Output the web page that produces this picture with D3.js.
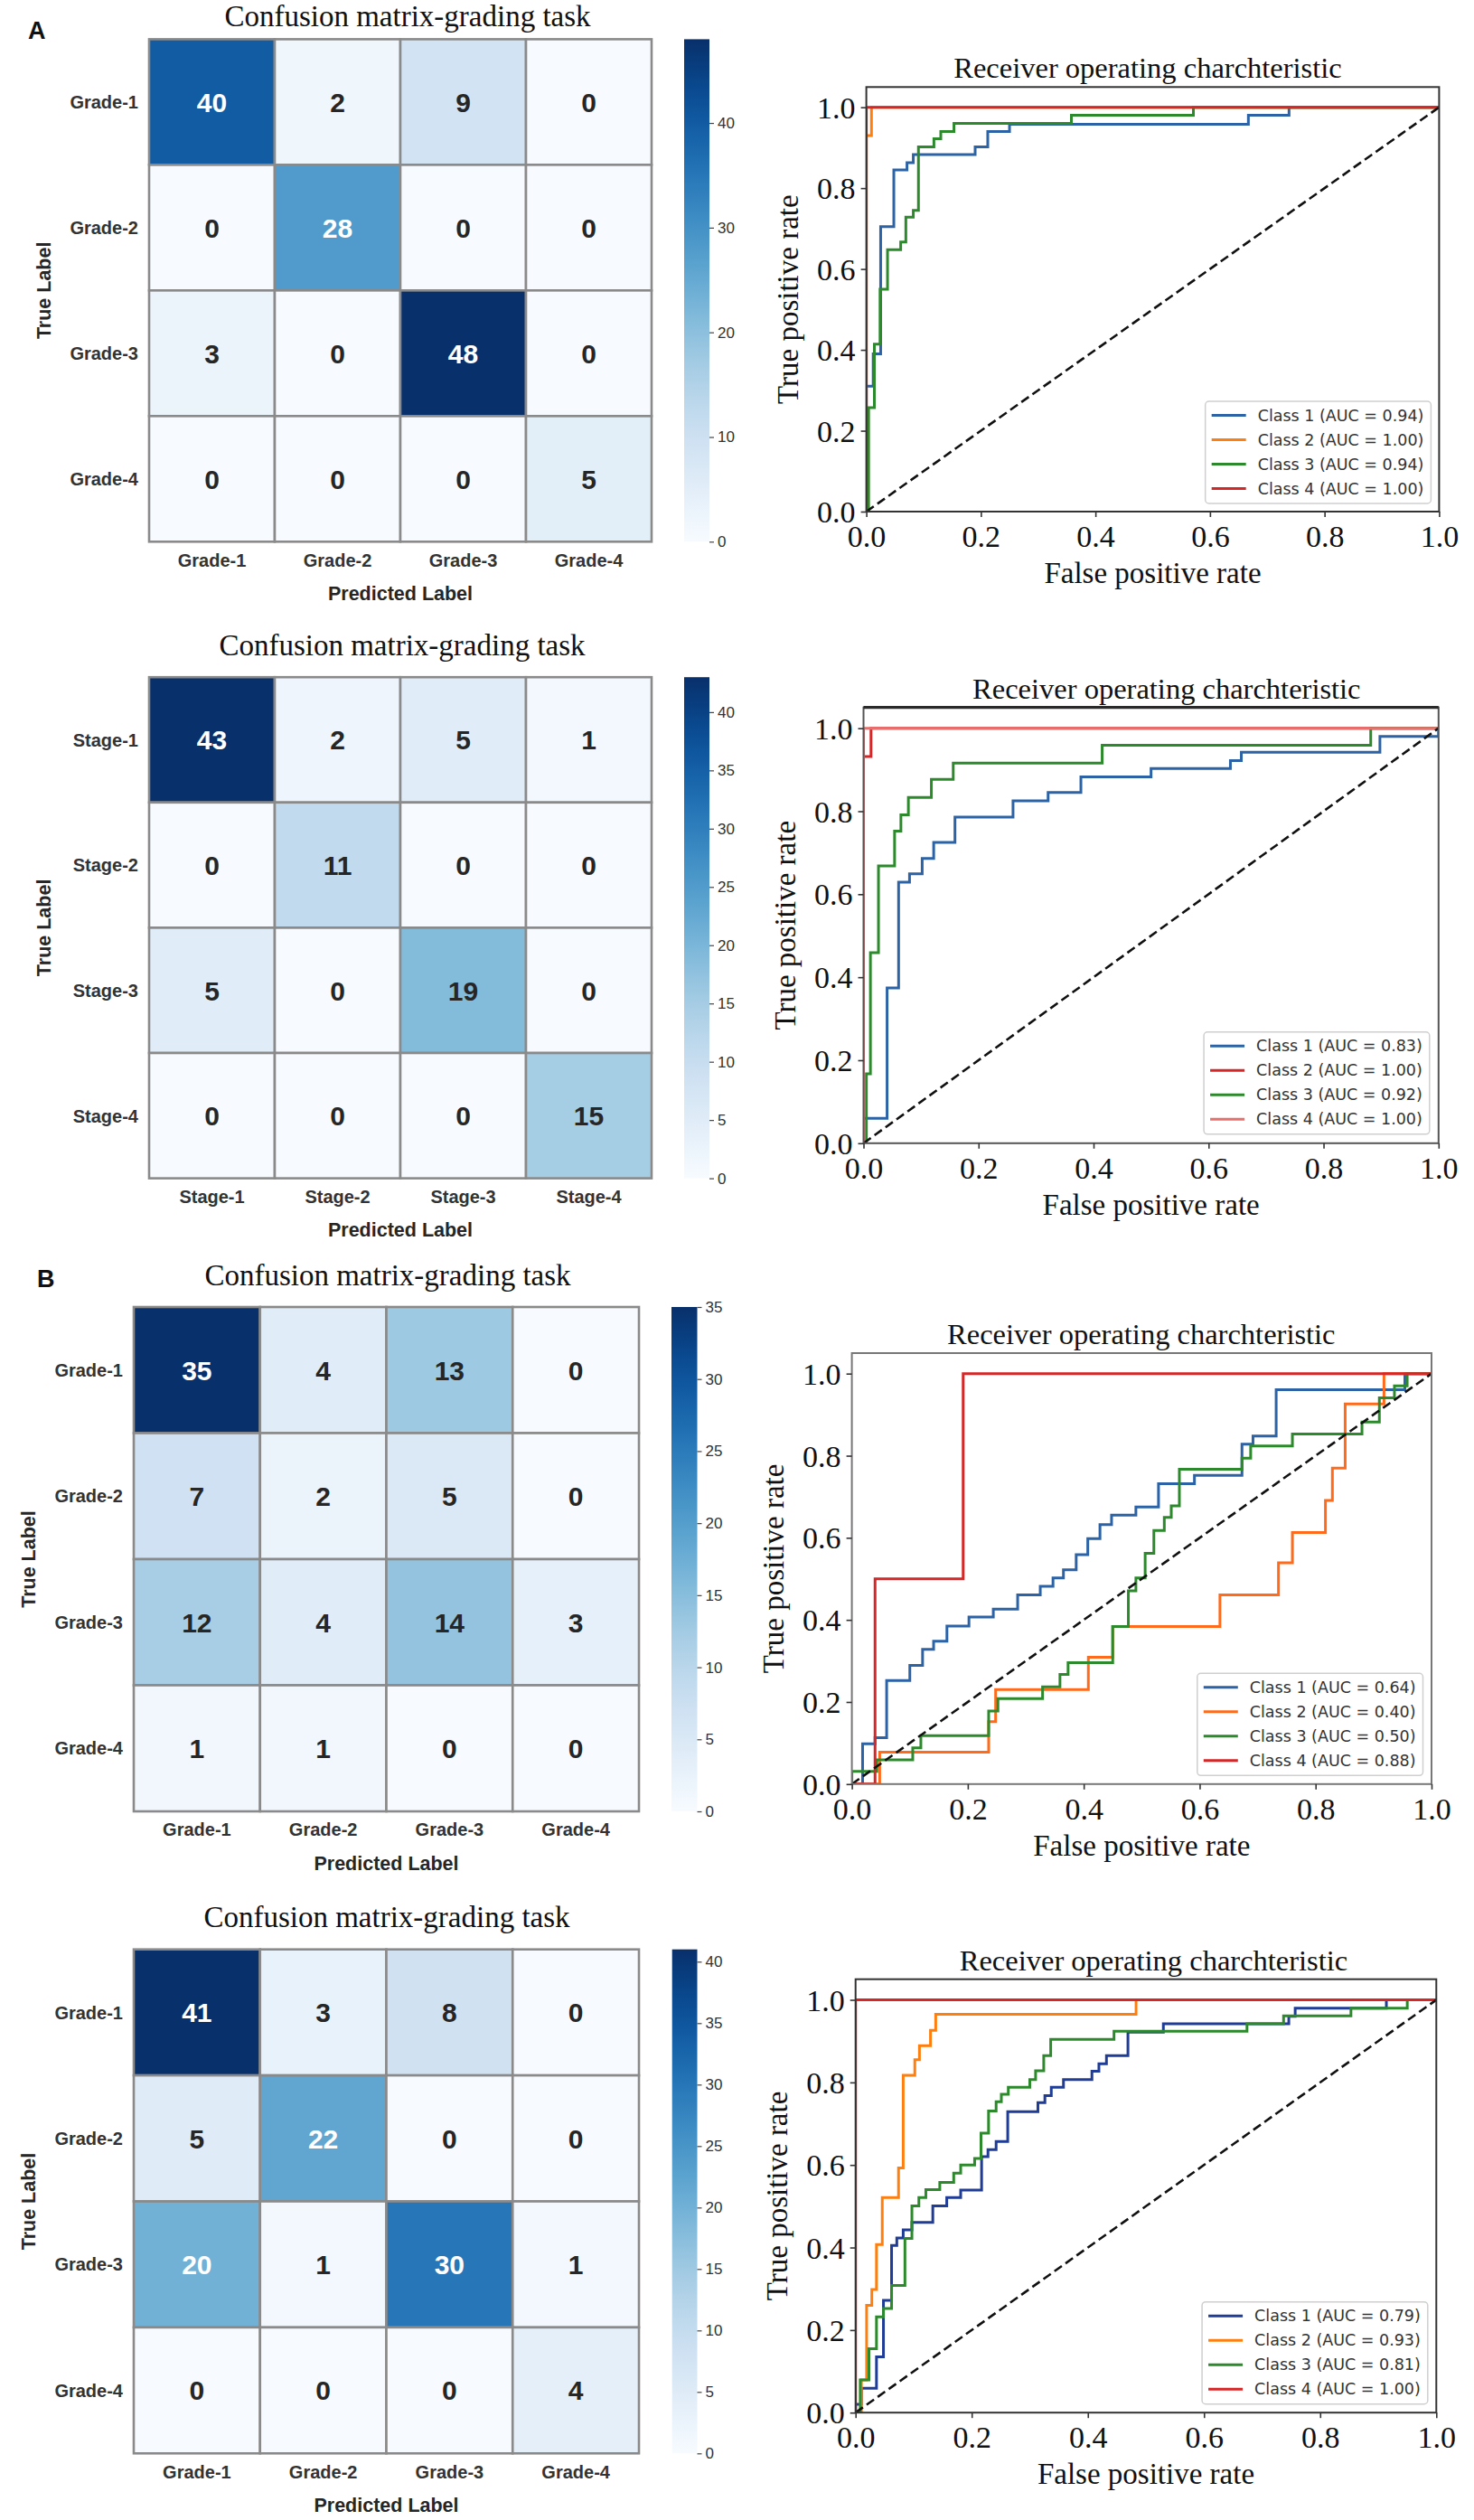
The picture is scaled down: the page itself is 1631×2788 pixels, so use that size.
<!DOCTYPE html>
<html>
<head>
<meta charset="utf-8">
<script src="https://cdn.jsdelivr.net/npm/d3@7"></script>
<style>
  html, body { margin: 0; padding: 0; background: #fff; }
  svg { display: block; }
</style>
</head>
<body>
<svg id="fig" width="1631" height="2788"></svg>
<script>
// ---------------- DATA ----------------
const gradeCats = ["Grade-1", "Grade-2", "Grade-3", "Grade-4"];
const stageCats = ["Stage-1", "Stage-2", "Stage-3", "Stage-4"];

const cmA1 = [[40, 2, 9, 0], [0, 28, 0, 0], [3, 0, 48, 0], [0, 0, 0, 5]];
const cmA2 = [[43, 2, 5, 1], [0, 11, 0, 0], [5, 0, 19, 0], [0, 0, 0, 15]];
const cmB1 = [[35, 4, 13, 0], [7, 2, 5, 0], [12, 4, 14, 3], [1, 1, 0, 0]];
const cmB2 = [[41, 3, 8, 0], [5, 22, 0, 0], [20, 1, 30, 1], [0, 0, 0, 4]];

const cbTicksA1 = [0, 10, 20, 30, 40];
const cbTicksA2 = [0, 5, 10, 15, 20, 25, 30, 35, 40];
const cbTicksB1 = [0, 5, 10, 15, 20, 25, 30, 35];
const cbTicksB2 = [0, 5, 10, 15, 20, 25, 30, 35, 40];

const rocTicks = [0, 0.2, 0.4, 0.6, 0.8, 1.0];

const legendA1 = ["Class 1 (AUC = 0.94)", "Class 2 (AUC = 1.00)", "Class 3 (AUC = 0.94)", "Class 4 (AUC = 1.00)"];
const legendA2 = ["Class 1 (AUC = 0.83)", "Class 2 (AUC = 1.00)", "Class 3 (AUC = 0.92)", "Class 4 (AUC = 1.00)"];
const legendB1 = ["Class 1 (AUC = 0.64)", "Class 2 (AUC = 0.40)", "Class 3 (AUC = 0.50)", "Class 4 (AUC = 0.88)"];
const legendB2 = ["Class 1 (AUC = 0.79)", "Class 2 (AUC = 0.93)", "Class 3 (AUC = 0.81)", "Class 4 (AUC = 1.00)"];

// ROC curves: [false positive rate, true positive rate]
const rocA1c1 = [[0,0],[0,0.31],[0.012,0.31],[0.012,0.39],[0.025,0.39],[0.025,0.705],[0.048,0.705],[0.048,0.845],[0.071,0.845],[0.071,0.863],[0.082,0.863],[0.082,0.883],[0.19,0.883],[0.19,0.902],[0.212,0.902],[0.212,0.94],[0.25,0.94],[0.25,0.958],[0.667,0.958],[0.667,0.98],[0.738,0.98],[0.738,1],[1,1]];
const rocA1c2 = [[0,0],[0,0.93],[0.009,0.93],[0.009,1],[1,1]];
const rocA1c3 = [[0,0],[0.004,0],[0.004,0.257],[0.014,0.257],[0.014,0.414],[0.024,0.414],[0.024,0.55],[0.037,0.55],[0.037,0.648],[0.06,0.648],[0.06,0.667],[0.069,0.667],[0.069,0.728],[0.082,0.728],[0.082,0.745],[0.091,0.745],[0.091,0.902],[0.118,0.902],[0.118,0.922],[0.13,0.922],[0.13,0.94],[0.153,0.94],[0.153,0.96],[0.358,0.96],[0.358,0.98],[0.571,0.98],[0.571,1],[1,1]];
const rocA1c4 = [[0,0],[0,1],[1,1]];

const rocA2c1 = [[0,0],[0,0.06],[0.041,0.06],[0.041,0.374],[0.061,0.374],[0.061,0.629],[0.08,0.629],[0.08,0.649],[0.102,0.649],[0.102,0.686],[0.122,0.686],[0.122,0.725],[0.159,0.725],[0.159,0.786],[0.26,0.786],[0.26,0.825],[0.321,0.825],[0.321,0.845],[0.378,0.845],[0.378,0.883],[0.5,0.883],[0.5,0.903],[0.638,0.903],[0.638,0.922],[0.657,0.922],[0.657,0.942],[0.898,0.942],[0.898,0.98],[1,0.98],[1,1]];
const rocA2c2 = [[0,0],[0,0.932],[0.013,0.932],[0.013,1],[1,1]];
const rocA2c3 = [[0,0],[0.005,0],[0.005,0.167],[0.012,0.167],[0.012,0.459],[0.026,0.459],[0.026,0.668],[0.054,0.668],[0.054,0.752],[0.065,0.752],[0.065,0.791],[0.078,0.791],[0.078,0.833],[0.118,0.833],[0.118,0.877],[0.156,0.877],[0.156,0.916],[0.415,0.916],[0.415,0.959],[0.882,0.959],[0.882,1],[1,1]];
const rocA2c4 = [[0,0],[0,1],[1,1]];

const rocB1c1 = [[0,0],[0.0185,0],[0.0185,0.098],[0.04,0.098],[0.04,0.113],[0.06,0.113],[0.06,0.252],[0.1,0.252],[0.1,0.289],[0.122,0.289],[0.122,0.328],[0.141,0.328],[0.141,0.348],[0.164,0.348],[0.164,0.385],[0.202,0.385],[0.202,0.407],[0.244,0.407],[0.244,0.426],[0.286,0.426],[0.286,0.461],[0.325,0.461],[0.325,0.482],[0.347,0.482],[0.347,0.502],[0.365,0.502],[0.365,0.522],[0.387,0.522],[0.387,0.559],[0.407,0.559],[0.407,0.598],[0.428,0.598],[0.428,0.632],[0.448,0.632],[0.448,0.655],[0.49,0.655],[0.49,0.675],[0.529,0.675],[0.529,0.732],[0.591,0.732],[0.591,0.752],[0.673,0.752],[0.673,0.828],[0.692,0.828],[0.692,0.848],[0.732,0.848],[0.732,0.961],[0.954,0.961],[0.954,1],[1,1]];
const rocB1c2 = [[0,0],[0.048,0],[0.048,0.078],[0.236,0.078],[0.236,0.152],[0.248,0.152],[0.248,0.23],[0.408,0.23],[0.408,0.309],[0.45,0.309],[0.45,0.384],[0.635,0.384],[0.635,0.461],[0.736,0.461],[0.736,0.539],[0.76,0.539],[0.76,0.613],[0.817,0.613],[0.817,0.691],[0.829,0.691],[0.829,0.77],[0.851,0.77],[0.851,0.926],[0.918,0.926],[0.918,1],[1,1]];
const rocB1c3 = [[0,0],[0,0.031],[0.043,0.031],[0.043,0.059],[0.105,0.059],[0.105,0.088],[0.119,0.088],[0.119,0.118],[0.236,0.118],[0.236,0.178],[0.252,0.178],[0.252,0.208],[0.329,0.208],[0.329,0.237],[0.359,0.237],[0.359,0.267],[0.373,0.267],[0.373,0.296],[0.45,0.296],[0.45,0.384],[0.477,0.384],[0.477,0.471],[0.49,0.471],[0.49,0.502],[0.506,0.502],[0.506,0.562],[0.521,0.562],[0.521,0.618],[0.539,0.618],[0.539,0.65],[0.551,0.65],[0.551,0.678],[0.565,0.678],[0.565,0.767],[0.673,0.767],[0.673,0.794],[0.688,0.794],[0.688,0.824],[0.76,0.824],[0.76,0.853],[0.88,0.853],[0.88,0.882],[0.91,0.882],[0.91,0.941],[0.936,0.941],[0.936,0.97],[0.958,0.97],[0.958,1],[1,1]];
const rocB1c4 = [[0,0],[0.04,0],[0.04,0.5],[0.192,0.5],[0.192,1],[1,1]];

const rocB2c1 = [[0,0],[0,0.02],[0.01,0.02],[0.01,0.059],[0.036,0.059],[0.036,0.135],[0.048,0.135],[0.048,0.272],[0.062,0.272],[0.062,0.405],[0.071,0.405],[0.071,0.423],[0.082,0.423],[0.082,0.443],[0.097,0.443],[0.097,0.461],[0.133,0.461],[0.133,0.501],[0.157,0.501],[0.157,0.521],[0.181,0.521],[0.181,0.539],[0.217,0.539],[0.217,0.62],[0.228,0.62],[0.228,0.637],[0.242,0.637],[0.242,0.657],[0.262,0.657],[0.262,0.729],[0.314,0.729],[0.314,0.751],[0.326,0.751],[0.326,0.768],[0.337,0.768],[0.337,0.788],[0.358,0.788],[0.358,0.807],[0.407,0.807],[0.407,0.827],[0.419,0.827],[0.419,0.845],[0.432,0.845],[0.432,0.865],[0.469,0.865],[0.469,0.922],[0.53,0.922],[0.53,0.942],[0.746,0.942],[0.746,0.96],[0.757,0.96],[0.757,0.98],[0.914,0.98],[0.914,1],[1,1]];
const rocB2c2 = [[0,0],[0.01,0],[0.01,0.079],[0.019,0.079],[0.019,0.26],[0.028,0.26],[0.028,0.298],[0.036,0.298],[0.036,0.407],[0.046,0.407],[0.046,0.521],[0.074,0.521],[0.074,0.593],[0.082,0.593],[0.082,0.817],[0.102,0.817],[0.102,0.855],[0.11,0.855],[0.11,0.889],[0.129,0.889],[0.129,0.926],[0.138,0.926],[0.138,0.965],[0.483,0.965],[0.483,1],[1,1]];
const rocB2c3 = [[0,0],[0.008,0],[0.008,0.079],[0.023,0.079],[0.023,0.155],[0.036,0.155],[0.036,0.232],[0.048,0.232],[0.048,0.252],[0.062,0.252],[0.062,0.308],[0.085,0.308],[0.085,0.422],[0.097,0.422],[0.097,0.501],[0.109,0.501],[0.109,0.521],[0.121,0.521],[0.121,0.54],[0.145,0.54],[0.145,0.558],[0.169,0.558],[0.169,0.58],[0.181,0.58],[0.181,0.6],[0.205,0.6],[0.205,0.616],[0.216,0.616],[0.216,0.677],[0.229,0.677],[0.229,0.731],[0.242,0.731],[0.242,0.753],[0.251,0.753],[0.251,0.771],[0.263,0.771],[0.263,0.788],[0.3,0.788],[0.3,0.807],[0.31,0.807],[0.31,0.828],[0.324,0.828],[0.324,0.865],[0.336,0.865],[0.336,0.904],[0.445,0.904],[0.445,0.924],[0.674,0.924],[0.674,0.942],[0.737,0.942],[0.737,0.961],[0.853,0.961],[0.853,0.98],[0.95,0.98],[0.95,1],[1,1]];
const rocB2c4 = [[0,0],[0,1],[1,1]];

// ---------------- DRAWING ----------------
const svg = d3.select("#fig");
const SERIF = "'Liberation Serif', 'Times New Roman', serif";
const SANS = "'Liberation Sans', Arial, sans-serif";
const LEG = "'DejaVu Sans', sans-serif";

function relLum(c) {
  const rgb = d3.rgb(c);
  const f = v => { v /= 255; return v <= 0.03928 ? v / 12.92 : Math.pow((v + 0.055) / 1.055, 2.4); };
  return 0.2126 * f(rgb.r) + 0.7152 * f(rgb.g) + 0.0722 * f(rgb.b);
}

let gradId = 0;
function drawCM(o) {
  const g = svg.append("g");
  const x = d3.scaleBand().domain(o.cats).range([o.x0, o.x1]);
  const y = d3.scaleBand().domain(o.cats).range([o.y0, o.y1]);
  const color = d3.scaleSequential(d3.interpolateBlues).domain([0, o.vmax]);
  const cells = [];
  o.values.forEach((row, i) => row.forEach((v, j) => cells.push({ r: o.cats[i], c: o.cats[j], v })));
  g.selectAll("rect.cell").data(cells).join("rect")
    .attr("x", d => x(d.c)).attr("y", d => y(d.r))
    .attr("width", x.bandwidth()).attr("height", y.bandwidth())
    .attr("fill", d => color(d.v))
    .attr("stroke", "#8a8a8a").attr("stroke-width", 2.6);
  g.selectAll("text.num").data(cells).join("text")
    .attr("x", d => x(d.c) + x.bandwidth() / 2)
    .attr("y", d => y(d.r) + y.bandwidth() / 2)
    .attr("dy", "0.36em")
    .attr("text-anchor", "middle")
    .attr("font-family", SANS).attr("font-weight", "bold").attr("font-size", 30)
    .attr("fill", d => relLum(color(d.v)) > 0.408 ? "#262626" : "#ffffff")
    .text(d => d.v);
  g.selectAll("text.row").data(o.cats).join("text")
    .attr("x", o.x0 - 12).attr("y", d => y(d) + y.bandwidth() / 2)
    .attr("dy", "0.36em").attr("text-anchor", "end")
    .attr("font-family", SANS).attr("font-weight", "bold").attr("font-size", 20)
    .attr("fill", "#333").text(d => d);
  g.selectAll("text.col").data(o.cats).join("text")
    .attr("x", d => x(d) + x.bandwidth() / 2).attr("y", o.y1 + 20)
    .attr("dy", "0.36em").attr("text-anchor", "middle")
    .attr("font-family", SANS).attr("font-weight", "bold").attr("font-size", 20)
    .attr("fill", "#333").text(d => d);
  g.append("text").attr("x", (o.x0 + o.x1) / 2).attr("y", o.y1 + 57).attr("dy", "0.36em")
    .attr("text-anchor", "middle").attr("font-family", SANS).attr("font-weight", "bold")
    .attr("font-size", 21.5).attr("fill", "#262626").text("Predicted Label");
  g.append("text").attr("transform", `translate(${o.x0 - 117},${(o.y0 + o.y1) / 2}) rotate(-90)`)
    .attr("dy", "0.36em").attr("text-anchor", "middle").attr("font-family", SANS)
    .attr("font-weight", "bold").attr("font-size", 21.5).attr("fill", "#262626").text("True Label");
  g.append("text").attr("x", o.titleX).attr("y", o.titleY).attr("text-anchor", "middle")
    .attr("font-family", SERIF).attr("font-size", 33).attr("fill", "#111").text(o.title);
  // colorbar
  const id = "cbgrad" + (gradId++);
  const grad = svg.append("defs").append("linearGradient").attr("id", id)
    .attr("x1", 0).attr("y1", 1).attr("x2", 0).attr("y2", 0);
  d3.range(0, 1.0001, 0.05).forEach(t => {
    grad.append("stop").attr("offset", t).attr("stop-color", d3.interpolateBlues(t));
  });
  g.append("rect").attr("x", o.cbX0).attr("y", o.y0).attr("width", o.cbX1 - o.cbX0)
    .attr("height", o.y1 - o.y0).attr("fill", `url(#${id})`);
  const cy = d3.scaleLinear().domain([0, o.vmax]).range([o.y1, o.y0]);
  const ax = g.append("g").attr("transform", `translate(${o.cbX1},0)`)
    .call(d3.axisRight(cy).tickValues(o.ticks).tickSize(5).tickPadding(4).tickSizeOuter(0));
  ax.select(".domain").remove();
  ax.selectAll(".tick line").attr("stroke", "#444").attr("stroke-width", 1.2);
  ax.selectAll(".tick text").attr("font-family", SANS).attr("font-size", 17).attr("fill", "#333");
}

let clipId = 0;
function drawROC(o) {
  const g = svg.append("g");
  const x = d3.scaleLinear().domain([0, 1]).range([o.x0, o.x1]);
  const y = d3.scaleLinear().domain([0, 1.05]).range([o.y1, o.y0]);
  const cid = "clip" + (clipId++);
  svg.append("defs").append("clipPath").attr("id", cid).append("rect")
    .attr("x", o.x0).attr("y", o.y0).attr("width", o.x1 - o.x0).attr("height", o.y1 - o.y0);
  const plot = g.append("g").attr("clip-path", `url(#${cid})`);
  const line = d3.line().x(d => x(d[0])).y(d => y(d[1]));
  o.curves.forEach((c, i) => {
    plot.append("path").attr("d", line(c)).attr("fill", "none")
      .attr("stroke", o.colors[i]).attr("stroke-width", 3).attr("stroke-linejoin", "miter");
  });
  plot.append("path").attr("d", line([[0, 0], [1, 1]])).attr("fill", "none")
    .attr("stroke", "#111").attr("stroke-width", 2.6).attr("stroke-dasharray", "10,5");
  // frame
  g.append("rect").attr("x", o.x0).attr("y", o.y0).attr("width", o.x1 - o.x0)
    .attr("height", o.y1 - o.y0).attr("fill", "none").attr("stroke", o.spine).attr("stroke-width", 2);
  if (o.topSpine) {
    g.append("line").attr("x1", o.x0).attr("x2", o.x1).attr("y1", o.y0).attr("y2", o.y0)
      .attr("stroke", o.topSpine).attr("stroke-width", 3.2);
  }
  const xa = g.append("g").attr("transform", `translate(0,${o.y1})`)
    .call(d3.axisBottom(x).tickValues(rocTicks).tickFormat(d3.format(".1f")).tickSize(6).tickSizeOuter(0));
  const ya = g.append("g").attr("transform", `translate(${o.x0},0)`)
    .call(d3.axisLeft(y).tickValues(rocTicks).tickFormat(d3.format(".1f")).tickSize(6).tickPadding(6).tickSizeOuter(0));
  [xa, ya].forEach(a => {
    a.select(".domain").remove();
    a.selectAll(".tick line").attr("stroke", "#333").attr("stroke-width", 1.6);
    a.selectAll(".tick text").attr("font-family", SERIF).attr("font-size", 34).attr("fill", "#111");
  });
  xa.selectAll(".tick text").attr("y", 39).attr("dy", null);
  ya.selectAll(".tick text").attr("dy", "0.34em");
  g.append("text").attr("x", (o.x0 + o.x1) / 2).attr("y", o.y1 + 79).attr("text-anchor", "middle")
    .attr("font-family", SERIF).attr("font-size", 33).attr("fill", "#111").text("False positive rate");
  g.append("text").attr("transform", `translate(${o.x0 - 76},${(o.y0 + o.y1) / 2}) rotate(-90)`)
    .attr("text-anchor", "middle").attr("font-family", SERIF).attr("font-size", 33)
    .attr("fill", "#111").text("True positive rate");
  g.append("text").attr("x", o.titleX).attr("y", o.y0 - 10).attr("text-anchor", "middle")
    .attr("font-family", SERIF).attr("font-size", 32.5).attr("fill", "#111")
    .text("Receiver operating charchteristic");
  // legend
  const lg = g.append("g");
  const box = lg.append("rect");
  const texts = o.legend.map((t, i) => lg.append("text").attr("font-family", LEG)
    .attr("font-size", 17.5).attr("fill", "#333").attr("dy", "0.35em").text(t));
  const tw = d3.max(texts, t => t.node().getComputedTextLength());
  const bw = 7 + 38 + 13 + tw + 8;
  const bh = 113;
  const bx = o.x1 - o.legPad - bw;
  const by = o.y1 - o.legPad - bh;
  box.attr("x", bx).attr("y", by).attr("width", bw).attr("height", bh).attr("rx", 4)
    .attr("fill", "#fff").attr("fill-opacity", 0.85).attr("stroke", "#cfcfcf").attr("stroke-width", 1.5);
  o.legend.forEach((t, i) => {
    const cy = by + 15.5 + 27 * i;
    lg.append("line").attr("x1", bx + 7).attr("x2", bx + 45).attr("y1", cy).attr("y2", cy)
      .attr("stroke", o.colors[i]).attr("stroke-width", 3);
    texts[i].attr("x", bx + 58).attr("y", cy);
  });
}

svg.append("text").attr("x", 31).attr("y", 43).attr("font-family", SANS).attr("font-weight", "bold")
  .attr("font-size", 27).attr("fill", "#111").text("A");
svg.append("text").attr("x", 41).attr("y", 1424).attr("font-family", SANS).attr("font-weight", "bold")
  .attr("font-size", 27).attr("fill", "#111").text("B");

const TITLE_CM = "Confusion matrix-grading task";

drawCM({ cats: gradeCats, values: cmA1, vmax: 48, ticks: cbTicksA1, x0: 165, x1: 721, y0: 43.4, y1: 599.3,
  cbX0: 757, cbX1: 785, title: TITLE_CM, titleX: 451, titleY: 29 });
drawCM({ cats: stageCats, values: cmA2, vmax: 43, ticks: cbTicksA2, x0: 165, x1: 721, y0: 749.2, y1: 1303.6,
  cbX0: 757, cbX1: 785, title: TITLE_CM, titleX: 445, titleY: 725 });
drawCM({ cats: gradeCats, values: cmB1, vmax: 35, ticks: cbTicksB1, x0: 148, x1: 707, y0: 1446, y1: 2004,
  cbX0: 743, cbX1: 771.5, title: TITLE_CM, titleX: 429, titleY: 1422 });
drawCM({ cats: gradeCats, values: cmB2, vmax: 41, ticks: cbTicksB2, x0: 148, x1: 707, y0: 2156.7, y1: 2714.3,
  cbX0: 743.7, cbX1: 771.5, title: TITLE_CM, titleX: 428, titleY: 2132 });

drawROC({ x0: 958.6, x1: 1592.4, y0: 96.3, y1: 566, titleX: 1270, spine: "#333", legPad: 9,
  curves: [rocA1c1, rocA1c2, rocA1c3, rocA1c4], legend: legendA1,
  colors: ["#2b63a6", "#ff7f0e", "#2c8a2c", "#d62728"] });
drawROC({ x0: 955.5, x1: 1591.8, y0: 782.7, y1: 1264.8, titleX: 1290.8, spine: "#555", topSpine: "#2a2a2a", legPad: 10,
  curves: [rocA2c1, rocA2c2, rocA2c3, rocA2c4], legend: legendA2,
  colors: ["#2b63a6", "#d62728", "#2c8a2c", "#e5706e"] });
drawROC({ x0: 942.6, x1: 1584, y0: 1497, y1: 1973.8, titleX: 1262.8, spine: "#777", legPad: 9.5,
  curves: [rocB1c1, rocB1c2, rocB1c3, rocB1c4], legend: legendB1,
  colors: ["#2b63a6", "#ff6b1a", "#2c8a2c", "#d62728"] });
drawROC({ x0: 946.7, x1: 1589.3, y0: 2189.7, y1: 2669.2, titleX: 1276.5, spine: "#333", legPad: 9.5,
  curves: [rocB2c1, rocB2c2, rocB2c3, rocB2c4], legend: legendB2,
  colors: ["#1f3c96", "#ff7f0e", "#2c8a2c", "#d62728"] });
</script>
</body>
</html>
